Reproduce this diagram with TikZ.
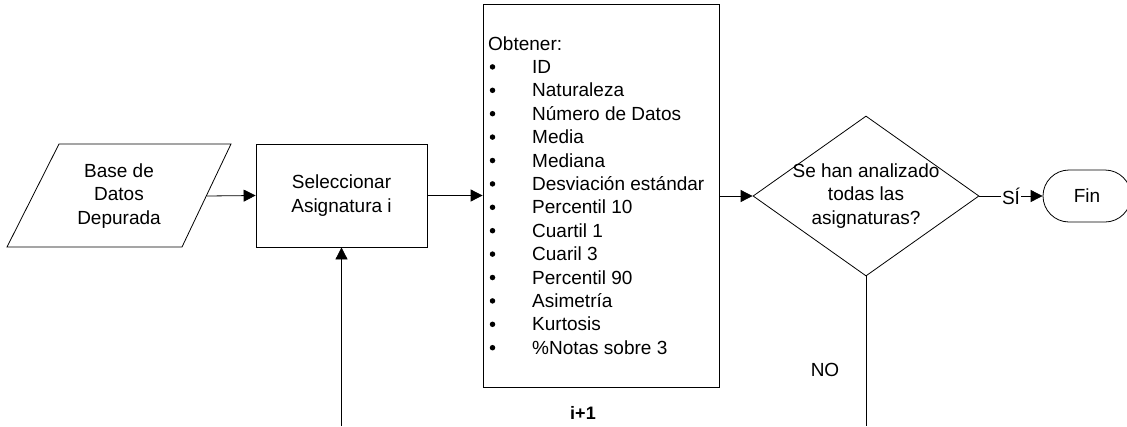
\documentclass[tikz,border=0pt]{standalone}
\usepackage{fontspec}
\setmainfont{Liberation Sans}
\usetikzlibrary{arrows.meta,shapes.geometric}
\begin{document}
\begin{tikzpicture}[x=1pt,y=-1pt,
  every node/.style={font=\fontsize{19}{23.4}\selectfont},
  line/.style={draw=black,line width=0.8pt},
  arr/.style={line,-{Triangle[length=12pt,width=12pt]}},
  procbox/.style={line,rectangle,inner sep=0pt},
  txt/.style={align=center,inner sep=0pt},
  dot/.style={circle,fill=black,inner sep=0pt,minimum size=5.5pt}]
\useasboundingbox (0,0) rectangle (1127,426);
\clip (0,0) rectangle (1127,426);

% input data (parallelogram)
\draw[line] (59,144) -- (231,144) -- (182,247) -- (7,247) -- cycle;
\node[txt] (base) at (119,196) {Base de\\Datos\\Depurada};
\coordinate (baseout) at (206.5,196);

% select subject
\node[procbox,minimum width=171pt,minimum height=103pt] (sel) at (341.5,195.5) {};
\node[txt] (seltxt) at (sel.center) {Seleccionar\\Asignatura i};

% statistics box
\node[procbox,minimum width=236pt,minimum height=383pt] (stat) at (601,195.5) {};
\node[anchor=base west,inner sep=0pt] (obt) at (488,50) {Obtener:};
\foreach \t [count=\i] in {ID,Naturaleza,Número de Datos,Media,Mediana,
  Desviación estándar,Percentil 10,Cuartil 1,Cuaril 3,Percentil 90,
  Asimetría,Kurtosis,\%Notas sobre 3}{
  \node[dot] (bul\i) at (492.5,50-6.5+23.4*\i) {};
  \node[anchor=base west,inner sep=0pt] (item\i) at (532,50+23.4*\i) {\t};
}
\node[inner sep=0pt,font=\fontsize{18}{20}\selectfont\bfseries] (inc) at (583,413) {i+1};

% decision
\node[line,diamond,aspect=2.825,inner sep=0pt,minimum width=226pt,minimum height=160pt] (dec) at (866,196) {};
\node[txt] (dectxt) at (866,196) {Se han analizado\\todas las\\asignaturas?};

% end terminator
\node[line,rectangle,rounded corners=26pt,minimum width=88pt,minimum height=52pt,inner sep=0pt] (fin) at (1087,196) {Fin};

% connectors
\coordinate (loopin) at (sel.south |- 0,426);
\coordinate (noout) at (dec.south |- 0,426);
\draw[arr] (baseout) -- (sel.west);
\draw[arr] (sel.east) -- (stat.west |- sel.east);
\draw[arr] (stat.east |- dec.west) -- (dec.west);
\draw[arr] (dec.east) -- node[fill=white,inner sep=1pt] (si) {SÍ} (fin.west);
\draw[line] (dec.south) -- (noout);
\node (no) at (825,370) {NO};
\draw[arr] (loopin) -- (sel.south);
\end{tikzpicture}
\end{document}
